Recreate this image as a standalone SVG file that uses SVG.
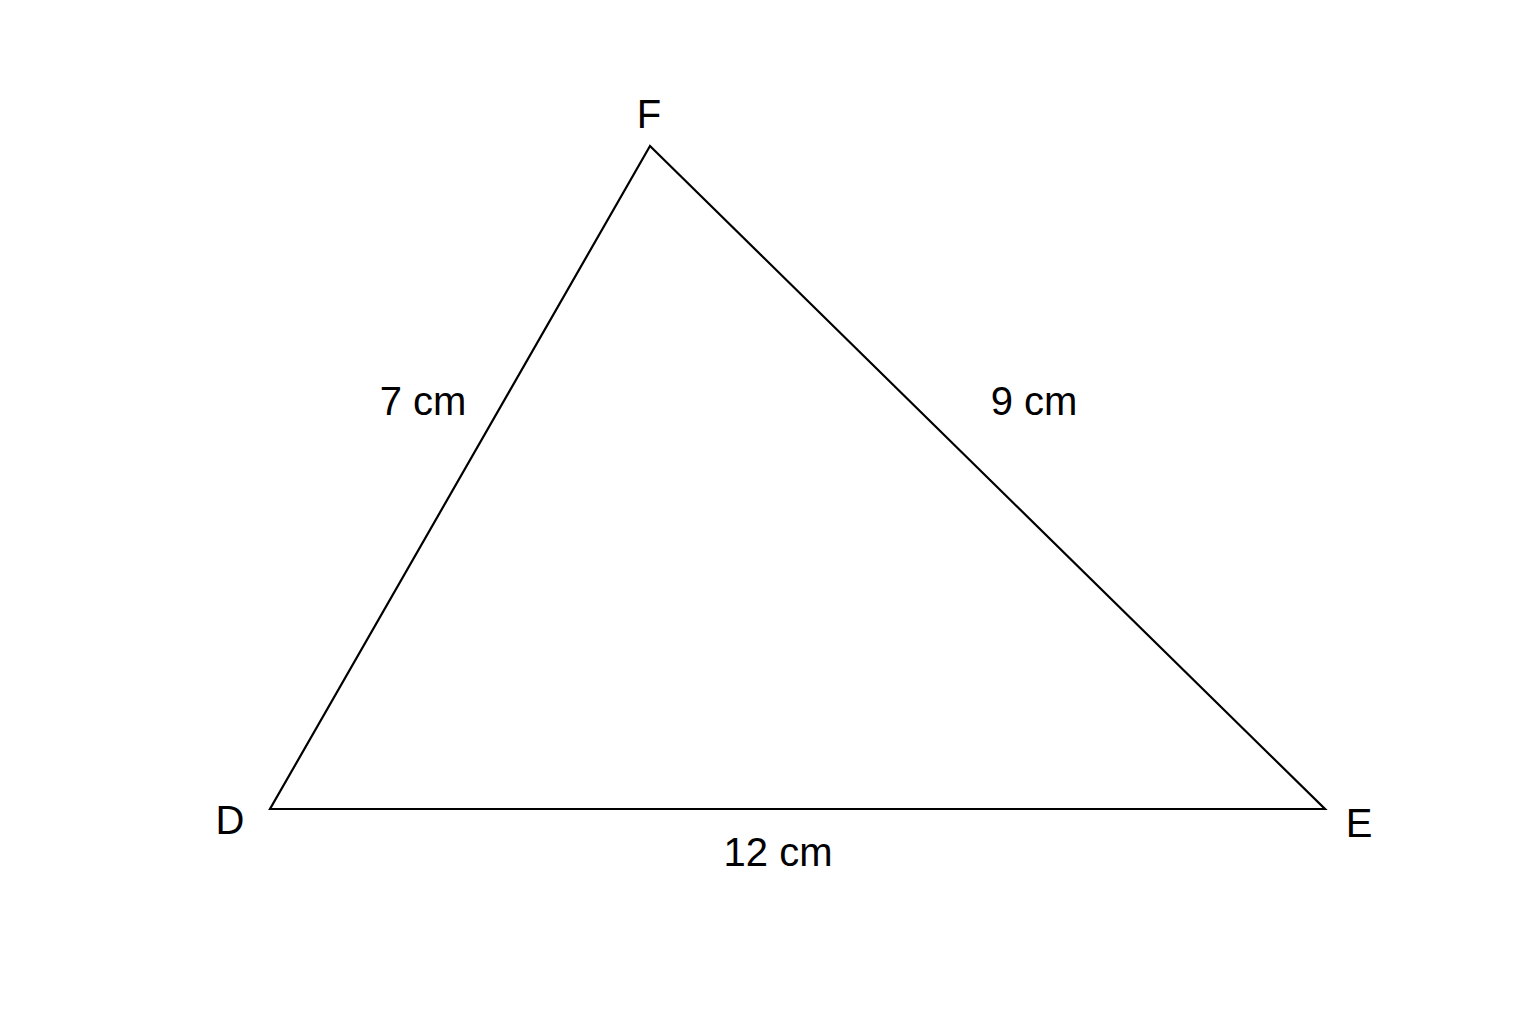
<svg xmlns="http://www.w3.org/2000/svg" width="1536" height="1024" viewBox="0 0 1536 1024">
<style>
text{font-family:"Liberation Sans",Arial,sans-serif;font-size:40px;fill:#000;text-anchor:middle}
.edge{fill:none;stroke:#000;stroke-width:2.2;stroke-linejoin:miter}
</style>
<rect width="1536" height="1024" fill="#fff"/>
<g id="connectors">
<polygon class="edge" points="270,809 1325,809 650,146"/>
</g>
<g id="node-F"><text x="649" y="128">F</text></g>
<g id="node-D"><text x="230" y="834">D</text></g>
<g id="node-E"><text x="1359" y="837">E</text></g>
<g id="label-DF"><text x="423" y="415">7 cm</text></g>
<g id="label-FE"><text x="1034" y="415">9 cm</text></g>
<g id="label-DE"><text x="778" y="866">12 cm</text></g>
</svg>
